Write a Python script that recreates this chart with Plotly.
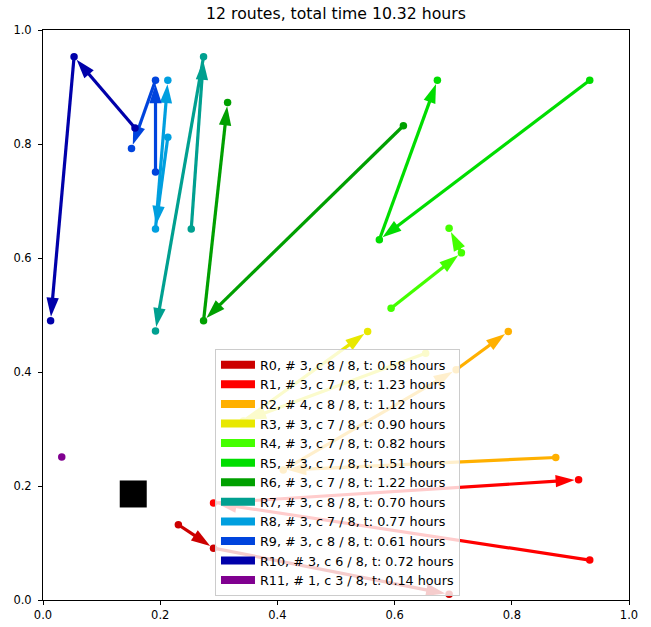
import plotly.graph_objects as go

# ---- data ----
title_text = "12 routes, total time 10.32 hours"

route_colors = ["#CC0000", "#FF0000", "#FFB000", "#E8E800", "#44FF00", "#00DD00",
                "#00A000", "#00A090", "#009FDF", "#0044DD", "#0000AA", "#800090"]

legend_labels = [
    "R0, # 3, c 8 / 8, t: 0.58 hours",
    "R1, # 3, c 7 / 8, t: 1.23 hours",
    "R2, # 4, c 8 / 8, t: 1.12 hours",
    "R3, # 3, c 7 / 8, t: 0.90 hours",
    "R4, # 3, c 7 / 8, t: 0.82 hours",
    "R5, # 3, c 7 / 8, t: 1.51 hours",
    "R6, # 3, c 7 / 8, t: 1.22 hours",
    "R7, # 3, c 8 / 8, t: 0.70 hours",
    "R8, # 3, c 7 / 8, t: 0.77 hours",
    "R9, # 3, c 8 / 8, t: 0.61 hours",
    "R10, # 3, c 6 / 8, t: 0.72 hours",
    "R11, # 1, c 3 / 8, t: 0.14 hours",
]

r0_x = [0.231, 0.291, 0.693]
r0_y = [0.132, 0.091, 0.010]
r1_x = [0.933, 0.291, 0.914]
r1_y = [0.070, 0.170, 0.211]
r2_x = [0.875, 0.410, 0.705, 0.794]
r2_y = [0.250, 0.228, 0.404, 0.471]
r3_x = [0.653, 0.342, 0.554]
r3_y = [0.433, 0.314, 0.471]
r4_x = [0.594, 0.714, 0.693]
r4_y = [0.512, 0.609, 0.652]
r5_x = [0.933, 0.574, 0.673]
r5_y = [0.912, 0.632, 0.912]
r6_x = [0.615, 0.274, 0.315]
r6_y = [0.832, 0.490, 0.873]
r7_x = [0.253, 0.274, 0.192]
r7_y = [0.651, 0.953, 0.472]
r8_x = [0.213, 0.192, 0.213]
r8_y = [0.812, 0.651, 0.912]
r9_x = [0.192, 0.192, 0.151]
r9_y = [0.751, 0.912, 0.792]
r10_x = [0.157, 0.053, 0.013]
r10_y = [0.828, 0.953, 0.490]
r11_x = [0.032]
r11_y = [0.251]

depot_x = [0.154]
depot_y = [0.186]

tick_vals = [0.0, 0.2, 0.4, 0.6, 0.8, 1.0]
tick_text = ["0.0", "0.2", "0.4", "0.6", "0.8", "1.0"]

routes_x = [r0_x, r1_x, r2_x, r3_x, r4_x, r5_x, r6_x, r7_x, r8_x, r9_x, r10_x, r11_x]
routes_y = [r0_y, r1_y, r2_y, r3_y, r4_y, r5_y, r6_y, r7_y, r8_y, r9_y, r10_y, r11_y]

FONT = "DejaVu Sans"

fig = go.Figure()

# depot
fig.add_trace(go.Scatter(x=depot_x, y=depot_y, mode="markers",
                         marker=dict(symbol="square", size=27, color="black",
                                     line=dict(width=0)),
                         showlegend=False, hoverinfo="skip"))

for i, (rx, ry) in enumerate(zip(routes_x, routes_y)):
    c = route_colors[i]
    n = len(rx)
    if n > 1:
        fig.add_trace(go.Scatter(
            x=rx, y=ry, mode="lines+markers",
            line=dict(color=c, width=3.2),
            marker=dict(symbol=["circle"] + ["arrow"] * (n - 1),
                        size=[0] + [20] * (n - 1),
                        standoff=[0] + [4] * (n - 1),
                        angleref="previous", color=c, opacity=1,
                        line=dict(width=0)),
            showlegend=False, hoverinfo="skip"))
    fig.add_trace(go.Scatter(
        x=rx, y=ry, mode="markers",
        marker=dict(symbol="circle", size=7.5, color=c, line=dict(width=0)),
        showlegend=False, hoverinfo="skip"))

# legend patches
for i, lab in enumerate(legend_labels):
    fig.add_trace(go.Scatter(x=[None], y=[None], mode="lines",
                             line=dict(color=route_colors[i], width=8),
                             name=lab, showlegend=True))

axis_common = dict(range=[0, 1], showgrid=False, zeroline=False, automargin=False,
                   showline=True, linecolor="black", linewidth=1, mirror=True,
                   ticks="outside", ticklen=4, tickwidth=1, tickcolor="black",
                   tickvals=tick_vals, ticktext=tick_text,
                   tickfont=dict(family=FONT, size=11.5, color="black"))

fig.update_layout(
    template="none",
    width=651, height=627,
    margin=dict(l=43, r=22, t=30, b=27, pad=0),
    paper_bgcolor="white", plot_bgcolor="white",
    title=dict(text=title_text, x=0.5, xref="paper", xanchor="center",
               y=1 - 14 / 627, yref="container", yanchor="middle",
               font=dict(family=FONT, size=15.7, color="black")),
    xaxis=axis_common,
    yaxis=dict(axis_common, ticklabelstandoff=4),
    legend=dict(x=0.2935, y=0.007, xanchor="left", yanchor="bottom",
                bgcolor="rgba(255,255,255,0.8)", bordercolor="#cccccc",
                borderwidth=1, font=dict(family=FONT, size=12.75, color="black"),
                itemwidth=34, tracegroupgap=0),
    font=dict(family=FONT),
    showlegend=True,
)

fig.write_html("out.html",
               config={"displayModeBar": False},
               post_script="document.body.style.margin='0';")
